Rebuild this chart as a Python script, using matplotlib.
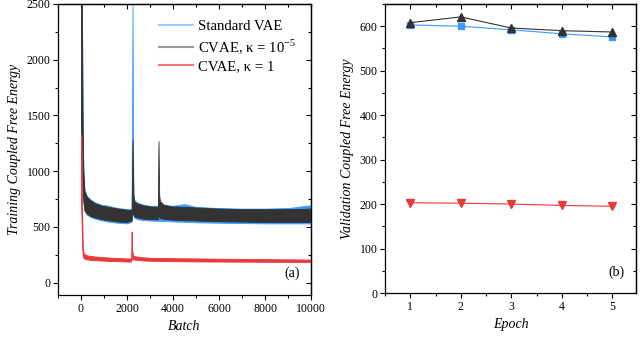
import matplotlib
matplotlib.use('Agg')
import matplotlib.pyplot as plt
from matplotlib.lines import Line2D
from matplotlib.ticker import MultipleLocator

plt.rcParams['font.family'] = ['Liberation Serif', 'DejaVu Serif']
plt.rcParams['mathtext.fontset'] = 'custom'
plt.rcParams['mathtext.rm'] = 'Liberation Serif'

# ---- training curves (a): envelopes of the noisy band ----
vae_x  = [0, 40, 70, 100, 150, 250, 400, 600, 900, 1200, 1600, 2000, 2200, 2240, 2260, 2280, 2320, 2450,
          2700, 3000, 3500, 4000, 4500, 5000, 6000, 7000, 8000, 9000, 10000]
vae_hi = [2500, 2500, 1500, 1050, 840, 780, 750, 720, 700, 690, 670, 660, 660, 2500, 1250, 800, 740, 720,
          700, 690, 690, 690, 705, 680, 670, 665, 665, 670, 695]
vae_lo = [1400, 1200, 850, 730, 645, 612, 592, 575, 560, 548, 538, 532, 548, 690, 630, 600, 582, 570,
          563, 558, 555, 550, 546, 542, 538, 535, 532, 532, 532]

cvae5_x  = [0, 40, 70, 100, 150, 250, 400, 600, 900, 1200, 1600, 2000, 2200, 2240, 2260, 2280, 2320, 2450,
            2700, 3000, 3340, 3370, 3400, 3440, 3600, 4000, 5000, 6000, 7000, 8000, 9000, 10000]
cvae5_hi = [2500, 2500, 1450, 1000, 820, 770, 740, 715, 690, 680, 665, 655, 650, 1280, 1000, 780, 730, 710,
            695, 685, 680, 1270, 780, 730, 700, 685, 675, 665, 660, 660, 660, 665]
cvae5_lo = [1400, 1100, 850, 740, 650, 620, 600, 585, 570, 560, 550, 545, 560, 650, 620, 610, 595, 585,
            575, 570, 568, 600, 590, 580, 572, 565, 558, 552, 548, 545, 545, 545]

cvae1_x  = [0, 20, 50, 80, 120, 200, 400, 800, 1200, 1600, 2000, 2180, 2200, 2220, 2260, 2400, 2700,
            3000, 4000, 5000, 6000, 7000, 8000, 9000, 10000]
cvae1_hi = [1330, 1330, 600, 300, 265, 250, 240, 232, 226, 222, 218, 218, 460, 300, 245, 235, 228,
            224, 220, 218, 216, 214, 212, 210, 208]
cvae1_lo = [700, 600, 320, 235, 220, 212, 205, 200, 196, 193, 190, 190, 210, 215, 210, 205, 200,
            197, 193, 191, 190, 189, 188, 187, 186]

# ---- validation (b) ----
epochs = [1, 2, 3, 4, 5]
val_vae = [603, 600, 592, 583, 576]
val_cvae5 = [608, 621, 596, 590, 587]
val_cvae1 = [203, 202, 200, 197, 195]

c_blue = '#3a9bff'
c_black = '#333333'
c_red = '#e8393b'

fig = plt.figure(figsize=(6.4, 3.39), dpi=100)
ax1 = fig.add_axes([58/640, 1-295/339, 253/640, 291/339])
ax2 = fig.add_axes([385/640, 1-293/339, 251/640, 289/339])

ax1.fill_between(vae_x, vae_lo, vae_hi, color=c_blue, lw=0.6, edgecolor=c_blue)
ax1.fill_between(cvae5_x, cvae5_lo, cvae5_hi, color=c_black, lw=0.6, edgecolor=c_black)
ax1.fill_between(cvae1_x, cvae1_lo, cvae1_hi, color=c_red, lw=0.6, edgecolor=c_red)

handles = [Line2D([], [], color=c_blue, alpha=0.5, lw=1.5),
           Line2D([], [], color=c_black, alpha=0.5, lw=1.5),
           Line2D([], [], color=c_red, alpha=0.7, lw=1.5)]
labels = ['Standard VAE', 'CVAE, κ = 10$^{-5}$', 'CVAE, κ = 1']
ax1.legend(handles, labels, frameon=False, loc='upper right', bbox_to_anchor=(0.995, 0.995),
           fontsize=10.6, handlelength=2.3, handletextpad=0.35, labelspacing=0.28, borderpad=0.45)

ax1.set_xlim(-1000, 10000)
ax1.set_ylim(-110, 2500)
ax1.xaxis.set_major_locator(MultipleLocator(2000))
ax1.xaxis.set_minor_locator(MultipleLocator(1000))
ax1.yaxis.set_major_locator(MultipleLocator(500))
ax1.yaxis.set_minor_locator(MultipleLocator(250))
ax1.set_xlabel('Batch', style='italic', fontsize=10)
ax1.set_ylabel('Training Coupled Free Energy', style='italic', fontsize=10)
ax1.text(0.955, 0.05, '(a)', transform=ax1.transAxes, ha='right', va='bottom', fontsize=10)

ax2.plot(epochs, val_vae, color=c_blue, marker='s', ms=5, lw=0.8)
ax2.plot(epochs, val_cvae5, color=c_black, marker='^', ms=6, lw=0.8)
ax2.plot(epochs, val_cvae1, color=c_red, marker='v', ms=6, lw=0.8)
ax2.set_xlim(0.5, 5.47)
ax2.set_ylim(0, 650)
ax2.xaxis.set_major_locator(MultipleLocator(1))
ax2.xaxis.set_minor_locator(MultipleLocator(0.5))
ax2.yaxis.set_major_locator(MultipleLocator(100))
ax2.yaxis.set_minor_locator(MultipleLocator(50))
ax2.set_xlabel('Epoch', style='italic', fontsize=10)
ax2.set_ylabel('Validation Coupled Free Energy', style='italic', fontsize=10)
ax2.text(0.955, 0.05, '(b)', transform=ax2.transAxes, ha='right', va='bottom', fontsize=10)

for ax in (ax1, ax2):
    for s in ax.spines.values():
        s.set_linewidth(0.9)
    ax.tick_params(which='major', direction='out', length=3.5, width=0.8, labelsize=8.5, pad=2)
    ax.tick_params(which='minor', direction='out', length=2, width=0.8)
    top = ax.secondary_xaxis('top')
    top.xaxis.set_major_locator(ax.xaxis.get_major_locator())
    top.xaxis.set_minor_locator(ax.xaxis.get_minor_locator())
    top.tick_params(which='major', direction='in', length=3.5, width=0.8, labeltop=False)
    top.tick_params(which='minor', direction='in', length=2, width=0.8)
    top.spines['top'].set_linewidth(0.9)
    right = ax.secondary_yaxis('right')
    right.yaxis.set_major_locator(ax.yaxis.get_major_locator())
    right.yaxis.set_minor_locator(ax.yaxis.get_minor_locator())
    right.tick_params(which='major', direction='in', length=3.5, width=0.8, labelright=False)
    right.tick_params(which='minor', direction='in', length=2, width=0.8)
    right.spines['right'].set_linewidth(0.9)

fig.savefig('out.png', dpi=100)
